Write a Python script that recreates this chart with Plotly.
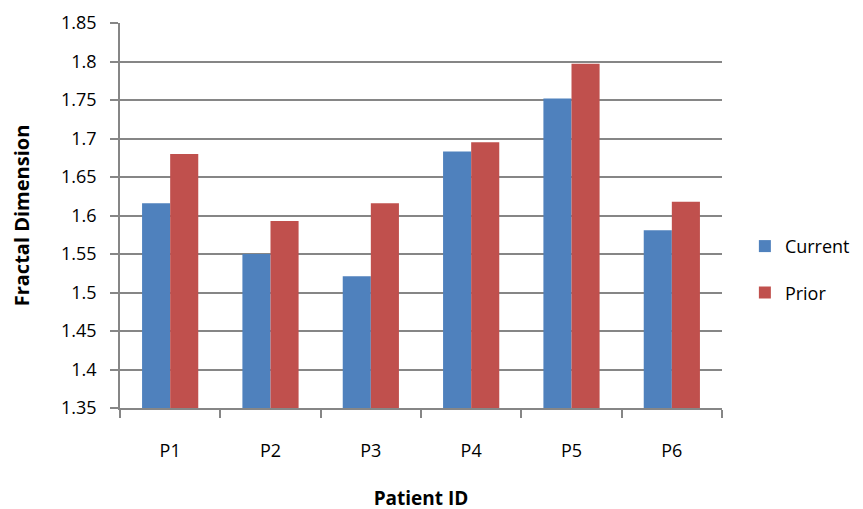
import plotly.graph_objects as go

patients = ["P1", "P2", "P3", "P4", "P5", "P6"]
current = [1.616, 1.550, 1.521, 1.683, 1.752, 1.581]
prior = [1.680, 1.593, 1.616, 1.695, 1.797, 1.618]
y_ticks = [1.35, 1.4, 1.45, 1.5, 1.55, 1.6, 1.65, 1.7, 1.75, 1.8, 1.85]
y_tick_labels = ["1.35", "1.4", "1.45", "1.5", "1.55", "1.6", "1.65", "1.7", "1.75", "1.8", "1.85"]

FONT = "Open Sans, sans-serif"

fig = go.Figure()
fig.add_trace(go.Bar(x=patients, y=current, name="Current", marker_color="#4F81BD",
                     marker_line_width=0, legendgroup="a"))
fig.add_trace(go.Bar(x=patients, y=prior, name="Prior", marker_color="#C0504D",
                     marker_line_width=0, legendgroup="b"))

fig.update_layout(
    width=863, height=509,
    margin=dict(l=112, r=149, t=15, b=109, autoexpand=False),
    paper_bgcolor="white", plot_bgcolor="white",
    font=dict(family=FONT, size=18, color="#000000"),
    barmode="group", bargap=0.44, bargroupgap=0,
    legend=dict(x=1.038, y=0.36, xanchor="left", yanchor="middle",
                traceorder="grouped", tracegroupgap=20,
                font=dict(family=FONT, size=18, color="#000000"),
                itemwidth=30),
    xaxis=dict(
        type="category", tickson="boundaries", ticks="outside", ticklen=8,
        tickcolor="#868686", tickwidth=1.5,
        showline=True, linecolor="#868686", linewidth=1.5,
        showgrid=False, ticklabelstandoff=26,
        tickfont=dict(family=FONT, size=18),
        title=dict(text="<b>Patient ID</b>", standoff=30,
                   font=dict(family=FONT, size=19)),
    ),
    yaxis=dict(
        range=[1.35, 1.85], tickvals=y_ticks, ticktext=y_tick_labels,
        ticks="outside", ticklen=8, tickcolor="#868686", tickwidth=1.5,
        showline=True, linecolor="#868686", linewidth=1.5,
        showgrid=True, gridcolor="#868686", gridwidth=1.5,
        zeroline=False, ticklabelstandoff=10,
        tickfont=dict(family=FONT, size=18),
        title=dict(text="<b>Fractal Dimension</b>", standoff=30,
                   font=dict(family=FONT, size=20)),
    ),
)

fig.write_html("out.html")
